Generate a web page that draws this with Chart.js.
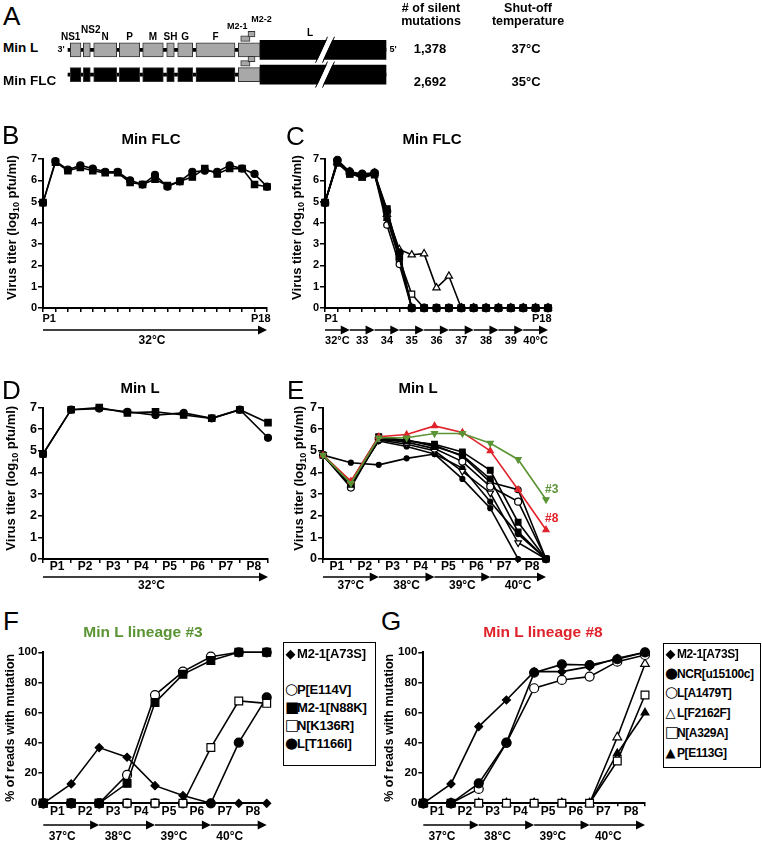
<!DOCTYPE html>
<html>
<head>
<meta charset="utf-8">
<title>Min L / Min FLC passage</title>
<script src="https://cdn.jsdelivr.net/npm/chart.js@4.4.1/dist/chart.umd.min.js"></script>
<style>
  html, body { margin: 0; padding: 0; background: #fff; }
  #page { position: relative; width: 762px; height: 841px; overflow: hidden; font-family: "Liberation Sans", Arial, sans-serif; color: #000; }
  #page canvas { position: absolute; }
  .t { position: absolute; white-space: nowrap; line-height: 1; font-weight: bold; }
  .letter { font-weight: normal; }
  .legend { position: absolute; border: 1.5px solid #000; box-sizing: border-box; }
  .sym { display: inline-block; width: 11px; font-family: "DejaVu Sans", sans-serif; font-weight: normal; text-align: center; margin-right: 1px; letter-spacing: 0; }
</style>
</head>
<body>
<div id="page">
  <canvas id="chartA"></canvas>
  <canvas id="chartB"></canvas>
  <canvas id="chartC"></canvas>
  <canvas id="chartD"></canvas>
  <canvas id="chartE"></canvas>
  <canvas id="chartF"></canvas>
  <canvas id="chartG"></canvas>
</div>
<script>
// ==================== DATA ====================

// Panel A - genome maps
const constructs = ['Min L', 'Min FLC'];
const silentMutations = ['1,378', '2,692'];
const shutoffTemp = ['37°C', '35°C'];
const mapGenes = ['NS1', 'NS2', 'N', 'P', 'M', 'SH', 'G', 'F', 'M2'];
const mapGeneStart = [10.3, 23.3, 33.7, 59.3, 82.7, 106.7, 117.7, 136.0, 178.3];
const mapGeneEnd = [21.0, 30.3, 56.7, 79.7, 103.3, 114.3, 132.7, 175.0, 200.0];
const mapL = [200, 326];
const mapLBreak = 265;
const mapBackbone = [8, 326];
const mapOrfs = ['M2-1', 'M2-2'];
const mapOrfStart = [180.7, 188.0];
const mapOrfEnd = [190.0, 195.0];
const mapOrfLevel = [0.45, 0.63];
const recoded = {
    'Min L': ['L'],
    'Min FLC': ['NS1', 'NS2', 'N', 'P', 'M', 'SH', 'G', 'F', 'L']
};

// Panels B and C - Min FLC, 18 passages
const passages18 = ['0', '1', '2', '3', '4', '5', '6', '7', '8', '9', '10', '11', '12', '13', '14', '15', '16', '17', '18'];
const pLabels18 = ['P1', '', '', '', '', '', '', '', '', '', '', '', '', '', '', '', '', 'P18'];
const bCircle = [4.95, 6.9, 6.5, 6.7, 6.55, 6.4, 6.4, 6.0, 5.8, 6.25, 5.7, 5.95, 6.4, 6.45, 6.4, 6.7, 6.55, 6.3, 5.7];
const bSquare = [4.95, 6.85, 6.45, 6.6, 6.45, 6.35, 6.35, 5.9, 5.8, 6.05, 5.75, 5.95, 6.15, 6.55, 6.3, 6.55, 6.55, 5.8, 5.7];
const bTemps = ['32°C'];
const bTempBreaks = [0, 18];

const cFilledCircle = [4.95, 6.95, 6.4, 6.3, 6.35, 4.55, 2.6, 0, 0, 0, 0, 0, 0, 0, 0, 0, 0, 0, 0];
const cFilledSquare = [4.95, 6.85, 6.3, 6.15, 6.3, 4.65, 2.45, 0, 0, 0, 0, 0, 0, 0, 0, 0, 0, 0, 0];
const cFilledTriangle = [4.95, 6.9, 6.35, 6.1, 6.3, 4.2, 2.35, 0, 0, 0, 0, 0, 0, 0, 0, 0, 0, 0, 0];
const cOpenCircle = [4.95, 6.9, 6.35, 6.2, 6.3, 3.9, 2.05, 0, 0, 0, 0, 0, 0, 0, 0, 0, 0, 0, 0];
const cOpenSquare = [4.95, 6.8, 6.3, 6.2, 6.25, 4.3, 2.3, 0.65, 0, 0, 0, 0, 0, 0, 0, 0, 0, 0, 0];
const cOpenTriangle = [4.95, 6.85, 6.4, 6.25, 6.35, 4.4, 2.75, 2.5, 2.55, 0.95, 1.5, 0, 0, 0, 0, 0, 0, 0, 0];
const cTemps = ['32°C', '33', '34', '35', '36', '37', '38', '39', '40°C'];
const cTempBreaks = [0, 2, 4, 6, 8, 10, 12, 14, 16, 18];

// Panels D and E - Min L, 8 passages
const passages8 = ['0', '1', '2', '3', '4', '5', '6', '7', '8'];
const pLabels8 = ['P1', 'P2', 'P3', 'P4', 'P5', 'P6', 'P7', 'P8'];
const dCircle = [4.85, 6.9, 6.95, 6.8, 6.65, 6.75, 6.5, 6.9, 5.6];
const dSquare = [4.85, 6.9, 7.0, 6.75, 6.8, 6.65, 6.5, 6.9, 6.3];
const dTemps = ['32°C'];
const dTempBreaks = [0, 8];

const eLineage3 = [4.8, 3.5, 5.6, 5.6, 5.8, 5.8, 5.35, 4.6, 2.75];
const eLineage8 = [4.8, 3.6, 5.65, 5.75, 6.15, 5.85, 5.0, 3.2, 1.35];
const eSquareA = [4.8, 3.55, 5.65, 5.45, 5.3, 4.95, 4.1, 1.7, 0];
const eSquareB = [4.8, 3.45, 5.6, 5.5, 5.2, 4.8, 3.7, 1.25, 0];
const eOpenCircle = [4.8, 3.3, 5.55, 5.4, 5.1, 4.5, 3.35, 2.65, 0];
const eCrossCircle = [4.8, 3.4, 5.5, 5.5, 5.25, 4.75, 3.55, 3.2, 0];
const eDownTriangle = [4.8, 3.4, 5.5, 5.3, 5.0, 4.05, 3.05, 0.75, 0];
const eDotA = [4.8, 3.5, 5.45, 5.2, 4.85, 4.2, 2.65, 1.15, 0];
const eDotB = [4.8, 4.45, 4.35, 4.65, 4.85, 3.7, 2.35, 0, 0];
const tempLabels = ['37°C', '38°C', '39°C', '40°C'];
const tempBreaks = [0, 2, 4, 6, 8];

// Panels F and G - % of reads with mutation
const fNames = ['M2-1[A73S]', 'P[E114V]', 'M2-1[N88K]', 'N[K136R]', 'L[T1166I]'];
const fA73S = [0, 12.8, 36.9, 30.5, 11.7, 5.1, 0, 0, 0];
const fE114V = [0, 0, 0, 18.8, 71.7, 87.2, 97.1, 100, 100];
const fN88K = [0, 0, 0, 13.2, 66.7, 85.4, 94.5, 100, 100];
const fK136R = [0, 0, 0, 0, 0, 0, 36.9, 67.8, 66.2];
const fT1166I = [0, 0, 0, 0, 0, 0, 0, 40.2, 70.2];

const gNames = ['M2-1[A73S]', 'NCR[u15100c]', 'L[A1479T]', 'L[F2162F]', 'N[A329A]', 'P[E113G]'];
const gA73S = [0, 12.8, 50.8, 68.4, 87.2, 87.2, 90.5, 96, 100];
const gNCR = [0, 0, 13.2, 40.2, 86.5, 92, 91.6, 95.4, 100];
const gA1479T = [0, 0, 9.5, 40, 76.2, 81.7, 83.9, 93.8, 98.2];
const gF2162F = [0, 0, 0, 0, 0, 0, 0, 43.7, 92.3];
const gA329A = [0, 0, 0, 0, 0, 0, 0, 28, 71.7];
const gE113G = [0, 0, 0, 0, 0, 0, 0, 33, 60];

// ==================== STYLE ====================

const FONT = '"Liberation Sans", Arial, Helvetica, sans-serif';
const GREEN = '#5a9434';
const RED = '#e0232b';
const GREY = '#a8a8a8';

Chart.defaults.font.family = FONT;
Chart.defaults.font.weight = 'bold';
Chart.defaults.color = '#000';

const page = document.getElementById('page');

function put(text, x, y, size, align, cls, color) {
    const el = document.createElement('div');
    el.className = 't' + (cls ? ' ' + cls : '');
    el.textContent = text;
    el.style.fontSize = size + 'px';
    el.style.left = x + 'px';
    el.style.top = y + 'px';
    const tx = align === 'center' ? '-50%' : align === 'right' ? '-100%' : '0';
    el.style.transform = `translate(${tx}, -50%)`;
    if (color) el.style.color = color;
    page.appendChild(el);
    return el;
}

function place(id, left, top, width, height) {
    const cv = document.getElementById(id);
    cv.width = width;
    cv.height = height;
    cv.style.left = left + 'px';
    cv.style.top = top + 'px';
    cv.style.width = width + 'px';
    cv.style.height = height + 'px';
    return cv;
}

// ==================== PANEL A ====================

const mapLabelShift = {
    NS1: [-5, -13], NS2: [4, -19.5], 'M2-1': [-8, -23], 'M2-2': [10, -30.5], L: [-13, -17]
};

const mapDeco = {
    id: 'mapDeco',
    afterDatasetsDraw(chart) {
        const { ctx, scales: { x, y } } = chart;
        ctx.save();
        // broken L gene
        constructs.forEach((c, i) => {
            const bx = x.getPixelForValue(mapLBreak);
            const by = y.getPixelForValue(i + 1);
            const h = 13;
            ctx.strokeStyle = '#fff';
            ctx.lineWidth = 5;
            ctx.beginPath(); ctx.moveTo(bx - 6, by + h); ctx.lineTo(bx + 6, by - h); ctx.stroke();
            ctx.strokeStyle = '#000';
            ctx.lineWidth = 1;
            [-3.5, 3.5].forEach(o => {
                ctx.beginPath(); ctx.moveTo(bx - 6 + o, by + h); ctx.lineTo(bx + 6 + o, by - h); ctx.stroke();
            });
        });
        // gene labels above the Min L map
        const row = y.getPixelForValue(1);
        ctx.fillStyle = '#000';
        ctx.textAlign = 'center';
        ctx.textBaseline = 'middle';
        const label = (name, s, e, size) => {
            const [dx, dy] = mapLabelShift[name] || [0, -12.5];
            ctx.font = `bold ${size}px ${FONT}`;
            ctx.fillText(name, (x.getPixelForValue(s) + x.getPixelForValue(e)) / 2 + dx, row + dy);
        };
        mapGenes.forEach((g, i) => { if (g !== 'M2') label(g, mapGeneStart[i], mapGeneEnd[i], 10); });
        mapOrfs.forEach((o, i) => label(o, mapOrfStart[i], mapOrfEnd[i], 9));
        label('L', mapL[0], mapL[1], 10);
        ctx.restore();
    }
};

function mapChart() {
    const cv = place('chartA', 40, 0, 370, 110);
    const rowOf = c => constructs.indexOf(c) + 1;
    const backbone = constructs.map(c => ({ y: rowOf(c), x: mapBackbone }));
    const lBars = constructs.map(c => ({ y: rowOf(c), x: mapL }));
    const genes = [], geneColors = [];
    constructs.forEach(c => mapGenes.forEach((g, i) => {
        genes.push({ y: rowOf(c), x: [mapGeneStart[i], mapGeneEnd[i]] });
        geneColors.push(recoded[c].includes(g) ? '#000' : GREY);
    }));
    const orfs = [];
    constructs.forEach(c => mapOrfs.forEach((o, i) => {
        orfs.push({ y: rowOf(c) - mapOrfLevel[i], x: [mapOrfStart[i], mapOrfEnd[i]] });
    }));
    const bar = { grouped: false, borderSkipped: false };
    new Chart(cv, {
        type: 'bar',
        data: {
            datasets: [
                Object.assign({ data: orfs, order: 0, barThickness: 5.5, backgroundColor: GREY, borderColor: '#333', borderWidth: 1 }, bar),
                Object.assign({ data: genes, order: 1, barThickness: 14, backgroundColor: geneColors, borderColor: '#333', borderWidth: 1 }, bar),
                Object.assign({ data: lBars, order: 2, barThickness: 19, backgroundColor: '#000', borderWidth: 0 }, bar),
                Object.assign({ data: backbone, order: 3, barThickness: 3, backgroundColor: '#000', borderWidth: 0 }, bar)
            ]
        },
        options: {
            indexAxis: 'y',
            responsive: false, animation: false, events: [],
            layout: { padding: 0, autoPadding: false },
            plugins: { legend: { display: false }, tooltip: { enabled: false } },
            scales: {
                x: { type: 'linear', display: false, min: -20, max: 350 },
                y: { type: 'linear', display: false, reverse: true, min: -0.5645, max: 2.9839 }
            }
        },
        plugins: [mapDeco]
    });
}

// ==================== PASSAGE CHARTS ====================

const panelDeco = {
    id: 'panelDeco',
    afterDraw(chart, args, o) {
        const { ctx, chartArea: a } = chart;
        const xs = chart.scales.x;
        ctx.save();
        ctx.fillStyle = '#000';
        ctx.strokeStyle = '#000';
        if (o.yTitle) {
            ctx.save();
            ctx.translate(a.left + o.yTitleDx, (a.top + a.bottom) / 2 + (o.yTitleDy || 0));
            ctx.rotate(-Math.PI / 2);
            const big = `bold ${o.yTitleSize}px ${FONT}`;
            const small = `bold ${Math.round(o.yTitleSize * 0.72)}px ${FONT}`;
            let total = 0;
            const widths = o.yTitle.map(([t, sub]) => {
                ctx.font = sub ? small : big;
                const w = ctx.measureText(t).width;
                total += w;
                return w;
            });
            let pos = -total / 2;
            ctx.textBaseline = 'middle';
            ctx.textAlign = 'left';
            o.yTitle.forEach(([t, sub], i) => {
                ctx.font = sub ? small : big;
                ctx.fillText(t, pos, sub ? o.yTitleSize * 0.32 : 0);
                pos += widths[i];
            });
            ctx.restore();
        }
        if (o.temps) {
            const t = o.temps;
            const y = a.bottom + t.dy;
            ctx.lineWidth = 1.5;
            ctx.font = `bold ${t.size}px ${FONT}`;
            ctx.textAlign = 'center';
            ctx.textBaseline = 'middle';
            for (let i = 0; i < t.labels.length; i++) {
                const x0 = xs.getPixelForValue(t.breaks[i]);
                const x1 = xs.getPixelForValue(t.breaks[i + 1]);
                ctx.beginPath(); ctx.moveTo(x0, y); ctx.lineTo(x1 - t.head + 1, y); ctx.stroke();
                ctx.beginPath(); ctx.moveTo(x1, y); ctx.lineTo(x1 - t.head, y - t.half); ctx.lineTo(x1 - t.head, y + t.half); ctx.closePath(); ctx.fill();
                ctx.fillText(t.labels[i], (x0 + x1) / 2 + (t.labelDx || 0), a.bottom + t.labelDy);
            }
        }
        if (o.tags) {
            ctx.font = `bold 12px ${FONT}`;
            ctx.textAlign = 'left';
            ctx.textBaseline = 'middle';
            o.tags.forEach(tag => {
                const pts = chart.getDatasetMeta(tag.ds).data;
                const p = pts[pts.length - 1];
                ctx.fillStyle = tag.color;
                ctx.fillText(tag.text, p.x + tag.dx, p.y + tag.dy);
            });
        }
        ctx.restore();
    }
};

function ds(data, shape, filled, r, color, extra) {
    const c = color || '#000';
    return Object.assign({
        data, xAxisID: 'x', yAxisID: 'y',
        borderColor: c, borderWidth: 1.6,
        pointStyle: shape, pointRadius: r, pointBorderWidth: 1.2,
        pointBackgroundColor: filled ? c : '#fff', pointBorderColor: c,
        tension: 0, fill: false, clip: false
    }, extra || {});
}

function passageChart(f) {
    const [cl, ct, cw, ch] = f.canvas;
    const [al, at, ar, ab] = f.area;
    const cv = place(f.id, cl, ct, cw, ch);
    const axisLine = { display: true, color: '#000', width: 2 };
    return new Chart(cv, {
        type: 'line',
        data: { labels: f.passages, datasets: f.datasets },
        options: {
            responsive: false, animation: false, events: [],
            layout: { autoPadding: false, padding: { left: 0, top: at - ct, right: cl + cw - ar, bottom: 0 } },
            plugins: { legend: { display: false }, tooltip: { enabled: false }, panelDeco: f.deco },
            scales: {
                x: { type: 'category', display: false, offset: false },
                xp: {
                    type: 'category', position: 'bottom', labels: f.pLabels, offset: true,
                    border: axisLine,
                    grid: { offset: true, drawOnChartArea: false, drawTicks: true, tickLength: f.xTick, color: '#000', lineWidth: 1.5 },
                    ticks: { autoSkip: false, maxRotation: 0, padding: f.pPad, font: { size: f.pSize, weight: 'bold' }, color: '#000' },
                    afterFit: s => { s.height = ct + ch - ab; }
                },
                y: {
                    type: 'linear', min: 0, max: f.yMax,
                    border: axisLine,
                    grid: { drawOnChartArea: false, drawTicks: true, tickLength: 5, color: '#000', lineWidth: 1.5 },
                    ticks: { stepSize: f.yStep, padding: 1, font: { size: f.ySize, weight: 'bold' }, color: '#000' },
                    afterFit: s => { s.width = al - cl; }
                }
            }
        },
        plugins: [panelDeco]
    });
}

const titerTitle = [['Virus titer (log', false], ['10', true], [' pfu/ml)', false]];
const readsTitle = [['% of reads with mutation', false]];
const arrow = { head: 9, half: 4.5 };

// ==================== BUILD ====================

mapChart();

passageChart({
    id: 'chartB', canvas: [0, 145, 285, 210], area: [43, 159, 267, 308],
    passages: passages18, pLabels: pLabels18, xTick: 4, pPad: 0, pSize: 11,
    yMax: 7, yStep: 1, ySize: 11,
    datasets: [
        ds(bCircle, 'circle', true, 3.5),
        ds(bSquare, 'rect', true, 4.5)
    ],
    deco: {
        yTitle: titerTitle, yTitleDx: -31, yTitleDy: -6, yTitleSize: 13,
        temps: Object.assign({ labels: bTemps, breaks: bTempBreaks, dy: 22, labelDy: 33, size: 12, labelDx: -3 }, arrow)
    }
});

passageChart({
    id: 'chartC', canvas: [282, 145, 285, 210], area: [325, 159, 548, 308],
    passages: passages18, pLabels: pLabels18, xTick: 4, pPad: 0, pSize: 11,
    yMax: 7, yStep: 1, ySize: 11,
    datasets: [
        ds(cFilledCircle, 'circle', true, 3.8),
        ds(cFilledSquare, 'rect', true, 4.5),
        ds(cFilledTriangle, 'triangle', true, 3.5),
        ds(cOpenCircle, 'circle', false, 3.2),
        ds(cOpenSquare, 'rect', false, 4.2),
        ds(cOpenTriangle, 'triangle', false, 4.2)
    ],
    deco: {
        yTitle: titerTitle, yTitleDx: -28, yTitleDy: -6, yTitleSize: 13,
        temps: Object.assign({ labels: cTemps, breaks: cTempBreaks, dy: 22, labelDy: 33, size: 11 }, arrow)
    }
});

passageChart({
    id: 'chartD', canvas: [0, 398, 285, 200], area: [43, 407.5, 268, 559],
    passages: passages8, pLabels: pLabels8, xTick: 4, pPad: -4, pSize: 12,
    yMax: 7, yStep: 1, ySize: 12.5,
    datasets: [
        ds(dCircle, 'circle', true, 3.5),
        ds(dSquare, 'rect', true, 4.5)
    ],
    deco: {
        yTitle: titerTitle, yTitleDx: -32, yTitleDy: -5, yTitleSize: 13,
        temps: Object.assign({ labels: dTemps, breaks: dTempBreaks, dy: 18, labelDy: 26.5, size: 12, labelDx: -4 }, arrow)
    }
});

passageChart({
    id: 'chartE', canvas: [282, 398, 300, 200], area: [323, 407.5, 546, 559],
    passages: passages8, pLabels: pLabels8, xTick: 4, pPad: -4, pSize: 12,
    yMax: 7, yStep: 1, ySize: 12.5,
    datasets: [
        ds(eLineage3, 'triangle', true, 3.5, GREEN, { pointRotation: 180 }),
        ds(eLineage8, 'triangle', true, 3.5, RED),
        ds(eSquareA, 'rect', true, 4),
        ds(eSquareB, 'rect', true, 4),
        ds(eOpenCircle, 'circle', false, 3.5),
        ds(eCrossCircle, 'circle', false, 3),
        ds(eDownTriangle, 'triangle', false, 3.8, null, { pointRotation: 180 }),
        ds(eDotA, 'circle', true, 2.5),
        ds(eDotB, 'circle', true, 2.5)
    ],
    deco: {
        yTitle: titerTitle, yTitleDx: -24, yTitleDy: -5, yTitleSize: 13,
        temps: Object.assign({ labels: tempLabels, breaks: tempBreaks, dy: 18, labelDy: 26.5, size: 12 }, arrow),
        tags: [
            { ds: 0, text: '#3', color: GREEN, dx: -1, dy: -10 },
            { ds: 1, text: '#8', color: RED, dx: -1, dy: -11 }
        ]
    }
});

// first dataset is drawn on top
passageChart({
    id: 'chartF', canvas: [0, 640, 280, 201], area: [43.3, 652.3, 266.7, 803.3],
    passages: passages8, pLabels: pLabels8, xTick: 3, pPad: -2, pSize: 12,
    yMax: 100, yStep: 20, ySize: 11.5,
    datasets: [
        ds(fA73S, 'rectRot', true, 4),
        ds(fN88K, 'rect', true, 5.5),
        ds(fK136R, 'rect', false, 5.5),
        ds(fE114V, 'circle', false, 4.5),
        ds(fT1166I, 'circle', true, 4.5)
    ],
    deco: {
        yTitle: readsTitle, yTitleDx: -33, yTitleDy: 0, yTitleSize: 12.5,
        temps: Object.assign({ labels: tempLabels, breaks: tempBreaks, dy: 21.7, labelDy: 33.4, size: 12, labelDx: -9 }, arrow)
    }
});

passageChart({
    id: 'chartG', canvas: [380, 640, 280, 201], area: [423.3, 652.3, 645, 803.3],
    passages: passages8, pLabels: pLabels8, xTick: 3, pPad: -2, pSize: 12,
    yMax: 100, yStep: 20, ySize: 11.5,
    datasets: [
        ds(gA73S, 'rectRot', true, 4),
        ds(gNCR, 'circle', true, 4.5),
        ds(gA329A, 'rect', false, 5.5),
        ds(gA1479T, 'circle', false, 4.5),
        ds(gF2162F, 'triangle', false, 5),
        ds(gE113G, 'triangle', true, 4.5)
    ],
    deco: {
        yTitle: readsTitle, yTitleDx: -34, yTitleDy: 0, yTitleSize: 12.5,
        temps: Object.assign({ labels: tempLabels, breaks: tempBreaks, dy: 21.7, labelDy: 33.4, size: 12, labelDx: -9 }, arrow)
    }
});

// ==================== TEXT ====================

// panel letters
[['A', 3, 16], ['B', 2, 135], ['C', 286, 136], ['D', 2, 390], ['E', 287, 390], ['F', 3, 621], ['G', 381, 621]]
    .forEach(([l, x, y]) => put(l, x, y, 26, 'left', 'letter'));

// panel A side texts
put(constructs[0], 3, 48, 13.5, 'left');
put(constructs[1], 3, 81, 13.5, 'left');
put("3'", 61, 49, 9, 'center');
put("5'", 393, 49, 9, 'center');
put('# of silent', 431, 8, 12.5, 'center');
put('mutations', 431, 21, 12.5, 'center');
put('Shut-off', 528, 8, 12.5, 'center');
put('temperature', 528, 21, 12.5, 'center');
silentMutations.forEach((m, i) => put(m, 430, i ? 81 : 48, 13, 'center'));
shutoffTemp.forEach((t, i) => put(t, 526, i ? 81 : 48, 13, 'center'));

// chart titles
put('Min FLC', 151, 138, 15, 'center');
put('Min FLC', 432, 138, 15, 'center');
put('Min L', 140, 387, 15, 'center');
put('Min L', 418, 387, 15, 'center');
put('Min L lineage #3', 143, 632, 15.5, 'center', null, GREEN);
put('Min L lineage #8', 543, 632, 15.5, 'center', null, RED);

// legends
function legend(left, top, width, height, names, symbols, rows, textLeft, size, spacing) {
    const box = document.createElement('div');
    box.className = 'legend';
    Object.assign(box.style, { left: left + 'px', top: top + 'px', width: width + 'px', height: height + 'px' });
    page.appendChild(box);
    names.forEach((n, i) => {
        const el = put('', textLeft, rows[i], size, 'left');
        el.style.letterSpacing = spacing + 'px';
        const s = document.createElement('span');
        s.className = 'sym';
        s.style.fontSize = symbols[i][1] + 'px';
        s.textContent = symbols[i][0];
        el.appendChild(s);
        el.appendChild(document.createTextNode(n));
    });
}
legend(283, 642, 93, 124, fNames,
    [['◆', 13], ['○', 15], ['■', 15], ['□', 15], ['●', 15]],
    [653, 689, 707, 725, 743], 285, 13, -0.2);
legend(663, 643, 98, 125, gNames,
    [['◆', 13], ['●', 15], ['○', 15], ['△', 13], ['□', 15], ['▲', 13]],
    [653, 673, 692, 712, 732, 752], 665, 12, -0.4);
</script>
</body>
</html>
